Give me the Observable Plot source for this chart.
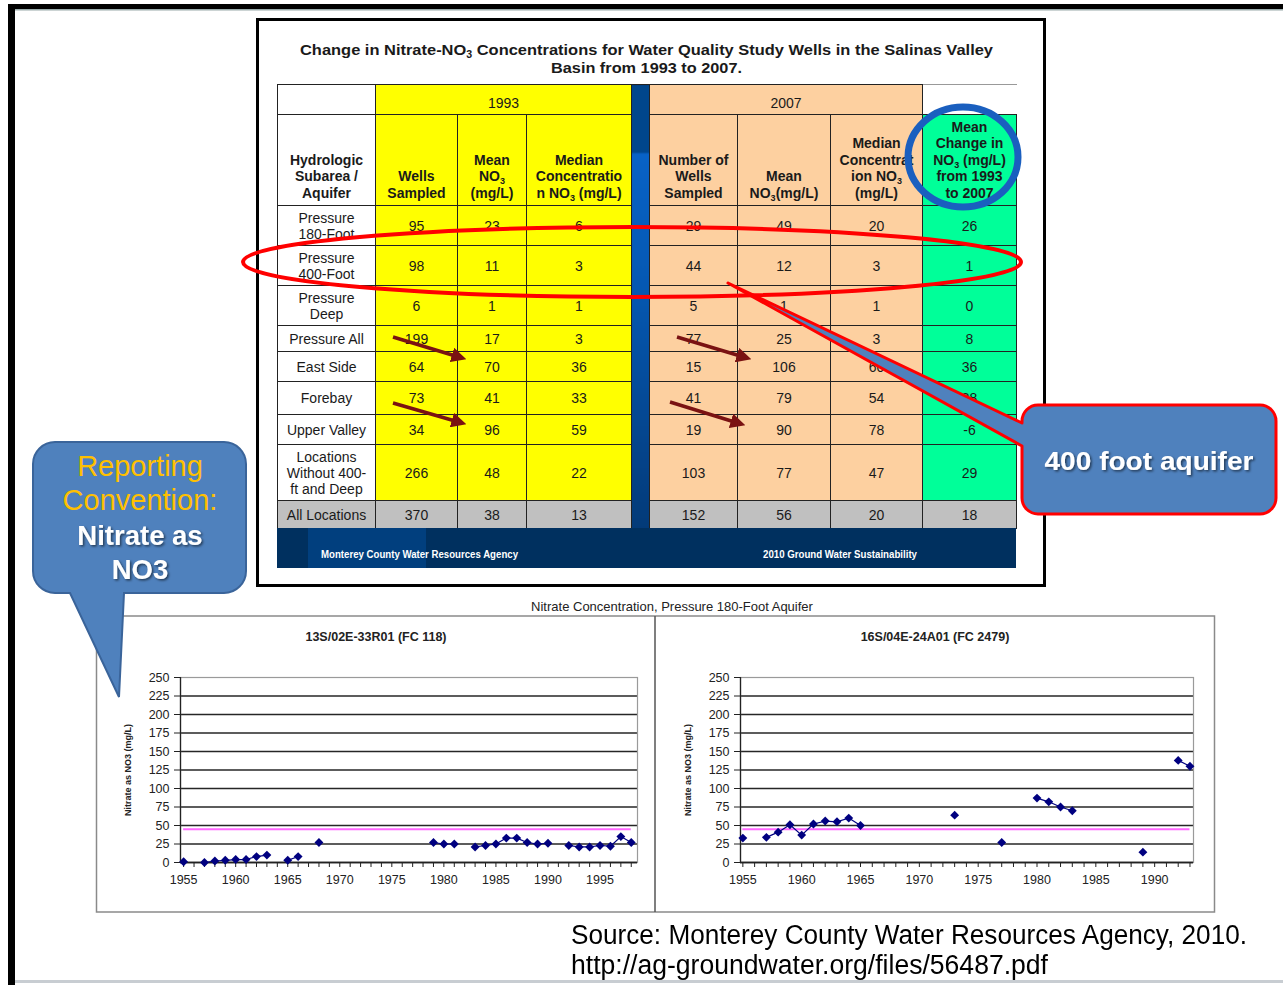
<!DOCTYPE html>
<html><head><meta charset="utf-8">
<script src="https://cdn.jsdelivr.net/npm/d3@7"></script>
<script src="https://cdn.jsdelivr.net/npm/@observablehq/plot@0.6"></script>
<style>
html,body{margin:0;padding:0;background:#fff;}
body{width:1283px;height:985px;position:relative;overflow:hidden;font-family:"Liberation Sans",Arial,sans-serif;}
#tbl{position:absolute;left:277px;top:84px;border-collapse:collapse;table-layout:fixed;width:739px;font-size:14px;color:#1a1a1a;}
#tbl td{border:1px solid #222;padding:0;text-align:center;vertical-align:middle;line-height:16px;overflow:hidden;}
#tbl td.h{font-weight:bold;vertical-align:bottom;padding-bottom:4px;line-height:16.4px;}
#tbl td.yr{vertical-align:middle;padding-top:6px;}
.y{background:#ffff00}.p{background:#fdd0a0}.g{background:#00ff99}.w{background:#fff}.gr{background:#c0c0c0}
#tbl td.sep{background:linear-gradient(to bottom,#00468c 0,#00468c 15%,#0862c6 15.5%,#0558b2 45%,#033a78 100%);}
#tbl td.tr{border-right:hidden;border-top:1px solid #999;}
sub{font-size:9px;vertical-align:-3px;line-height:0}
.chart{position:absolute;top:650px;}
#ov{position:absolute;left:0;top:0;z-index:50;pointer-events:none;}
.src{position:absolute;left:571px;font-size:27px;line-height:30px;color:#000;white-space:nowrap;transform-origin:0 50%;z-index:60;}
</style></head>
<body>
<table id="tbl"></table>
<div id="c1" class="chart" style="left:96px"></div>
<div id="c2" class="chart" style="left:656px"></div>
<div class="src" id="s1" data-w="676" style="top:920px">Source: Monterey County Water Resources Agency, 2010.</div>
<div class="src" id="s2" data-w="477" style="top:950px">http://ag-groundwater.org/files/56487.pdf</div>
<svg id="ov" width="1283" height="985" xmlns="http://www.w3.org/2000/svg" font-family="Liberation Sans, Arial, sans-serif">
<defs>
<marker id="ah" viewBox="0 0 10 10" refX="7" refY="5" markerWidth="4.3" markerHeight="4.3" orient="auto"><path d="M0,0 L10,5 L0,10 z" fill="#7a1212"/></marker>
<filter id="sh" x="-10%" y="-20%" width="130%" height="150%"><feDropShadow dx="1.5" dy="1.5" stdDeviation="1" flood-color="#000" flood-opacity="0.55"/></filter>
</defs>
<!-- slide frame -->
<rect x="8" y="4" width="1275" height="5" fill="#000"/>
<rect x="14" y="9" width="1269" height="1.5" fill="#9aa"/>
<rect x="8" y="4" width="7" height="981" fill="#000"/>
<rect x="15" y="980" width="1268" height="3" fill="#c8cdd2"/>
<!-- table box -->
<rect x="257.5" y="19.5" width="787" height="566" fill="none" stroke="#000" stroke-width="3"/>
<text x="300" y="55" font-size="15.5" font-weight="bold" fill="#1a1a1a" textLength="693" lengthAdjust="spacingAndGlyphs">Change in Nitrate-NO<tspan font-size="10" dy="3">3</tspan><tspan dy="-3"> Concentrations for Water Quality Study Wells in the Salinas Valley</tspan></text>
<text x="551" y="73" font-size="15.5" font-weight="bold" fill="#1a1a1a" textLength="191" lengthAdjust="spacingAndGlyphs">Basin from 1993 to 2007.</text>
<!-- table footer -->
<rect x="277" y="528" width="739" height="40" fill="#00305f"/>
<rect x="308" y="528" width="118" height="40" fill="#013f7e"/>
<text x="321" y="558" font-size="10.5" font-weight="bold" fill="#fff" textLength="197" lengthAdjust="spacingAndGlyphs">Monterey County Water Resources Agency</text>
<text x="763" y="558" font-size="10.5" font-weight="bold" fill="#fff" textLength="154" lengthAdjust="spacingAndGlyphs">2010 Ground Water Sustainability</text>
<!-- annotations -->
<ellipse cx="632" cy="262" rx="389" ry="35" fill="none" stroke="#ff0000" stroke-width="4"/>
<ellipse cx="963" cy="157" rx="55" ry="50" fill="none" stroke="#1a5fbf" stroke-width="7"/>
<g stroke="#7a1212" stroke-width="3.5" marker-end="url(#ah)">
<line x1="393" y1="337" x2="462" y2="358"/>
<line x1="393" y1="403" x2="462" y2="423"/>
<line x1="677" y1="337" x2="747" y2="358"/>
<line x1="670" y1="402" x2="741" y2="424"/>
</g>
<path d="M 728 283 L 1022 446 V 498 A16 16 0 0 0 1038 514 H 1260 A16 16 0 0 0 1276 498 V 421 A16 16 0 0 0 1260 405 H 1038 A16 16 0 0 0 1022 421 V 423 Z" fill="#4f81bd" stroke="#ff0000" stroke-width="3" stroke-linejoin="round"/>
<text x="1149" y="470" text-anchor="middle" font-size="26" font-weight="bold" fill="#fff" filter="url(#sh)" textLength="209" lengthAdjust="spacingAndGlyphs">400 foot aquifer</text>
<!-- chart panel -->
<text x="672" y="611" text-anchor="middle" font-size="13" fill="#222">Nitrate Concentration, Pressure 180-Foot Aquifer</text>
<rect x="96.5" y="616" width="1118" height="296" fill="none" stroke="#8a8a8a" stroke-width="1.5"/>
<line x1="655" y1="616" x2="655" y2="912" stroke="#555" stroke-width="1.5"/>
<text x="376" y="641" text-anchor="middle" font-size="12.5" font-weight="bold" fill="#222">13S/02E-33R01 (FC 118)</text>
<text x="935" y="641" text-anchor="middle" font-size="12.5" font-weight="bold" fill="#222">16S/04E-24A01 (FC 2479)</text>
<!-- left callout -->
<path d="M 55 442 H 224 A22 22 0 0 1 246 464 V 571 A22 22 0 0 1 224 593 H 124 L 119 697 L 70 593 H 55 A22 22 0 0 1 33 571 V 464 A22 22 0 0 1 55 442 Z" fill="#4f81bd" stroke="#3a649a" stroke-width="2"/>
<g text-anchor="middle">
<text x="140" y="476" font-size="29" fill="#ffc000">Reporting</text>
<text x="140" y="510" font-size="29" fill="#ffc000">Convention:</text>
<text x="140" y="545" font-size="27.5" font-weight="bold" fill="#fff" filter="url(#sh)">Nitrate as</text>
<text x="140" y="579" font-size="27.5" font-weight="bold" fill="#fff" filter="url(#sh)">NO3</text>
</g>
</svg>
<script>
// ---------- table data ----------
const rowLabels = ["Pressure\n180-Foot","Pressure\n400-Foot","Pressure\nDeep","Pressure All","East Side","Forebay","Upper Valley","Locations\nWithout 400-\nft and Deep","All Locations"];
const wells1993  = [95, 98, 6, 199, 64, 73, 34, 266, 370];
const mean1993   = [23, 11, 1, 17, 70, 41, 96, 48, 38];
const median1993 = [6, 3, 1, 3, 36, 33, 59, 22, 13];
const wells2007  = [29, 44, 5, 77, 15, 41, 19, 103, 152];
const mean2007   = [49, 12, 1, 25, 106, 79, 90, 77, 56];
const median2007 = [20, 3, 1, 3, 60, 54, 78, 47, 20];
const change     = [26, 1, 0, 8, 36, 38, -6, 29, 18];
const periodLabels = ["1993", "2007"];
const headers = ["Hydrologic\nSubarea /\nAquifer","Wells\nSampled","Mean\nNO<sub>3</sub>\n(mg/L)","Median\nConcentratio\nn NO<sub>3</sub> (mg/L)",
                 "Number of\nWells\nSampled","Mean\nNO<sub>3</sub>(mg/L)","Median\nConcentrat\nion NO<sub>3</sub>\n(mg/L)","Mean\nChange in\nNO<sub>3</sub> (mg/L)\nfrom 1993\nto 2007"];

// ---------- chart data ----------
const yearsA   = [1955,1957,1958,1959,1960,1961,1962,1963,1965,1966,1968,1979,1980,1981,1983,1984,1985,1986,1987,1988,1989,1990,1992,1993,1994,1995,1996,1997,1998];
const nitrateA = [1,0,2,3,4,4,8,10,3,8,27,27,25,25,21,23,25,33,33,27,25,26,23,21,21,23,22,35,27];
const yearsB   = [1955,1957,1958,1959,1960,1961,1962,1963,1964,1965,1973,1977,1980,1981,1982,1983,1989,1992,1993];
const nitrateB = [33,34,41,51,37,52,56,55,60,50,64,27,87,82,75,70,14,138,130];
const mcl = 45;
const yTicks = [0,25,50,75,100,125,150,175,200,225,250];
const xLabelYears = [1955,1960,1965,1970,1975,1980,1985,1990,1995];
const yLabel = "Nitrate as NO3 (mg/L)";

// ---------- build table ----------
const colW = [98,82,69,105,18,88,93,92,94];
const rowH = [40,40,40,26,30,33,30,56,28];
const br = s => s.replace(/\n/g, "<br>");
let html = "<colgroup>" + colW.map(w => `<col style="width:${w}px">`).join("") + "</colgroup>";
html += `<tr style="height:30px"><td class="w"></td><td class="y yr" colspan="3">${periodLabels[0]}</td><td class="sep" rowspan="11"></td><td class="p yr" colspan="3">${periodLabels[1]}</td><td class="w tr"></td></tr>`;
const hcls = ["w","y","y","y","p","p","p","g"];
html += `<tr style="height:91px">` + headers.map((h,i) => `<td class="h ${hcls[i]}">${br(h)}</td>`).join("") + "</tr>";
rowLabels.forEach((lab, i) => {
  const vals = [wells1993[i], mean1993[i], median1993[i], wells2007[i], mean2007[i], median2007[i], change[i]];
  const cls = i === rowLabels.length - 1 ? ["gr","gr","gr","gr","gr","gr","gr","gr"] : hcls;
  html += `<tr style="height:${rowH[i]}px"><td class="${cls[0]}">${br(lab)}</td>` +
    vals.map((v, j) => `<td class="${cls[j+1]}">${v}</td>`).join("") + "</tr>";
});
document.getElementById("tbl").innerHTML = html;

// condensed source lines
document.querySelectorAll(".src").forEach(el => {
  el.style.display = "inline-block";
  const w = el.getBoundingClientRect().width;
  el.style.transform = `scaleX(${(+el.dataset.w) / w})`;
});

// ---------- charts ----------
function chart(years, vals, domain, mr) {
  const first = years[0], last = years[years.length - 1];
  const series = d3.range(first, last + 1).map(yr => { const i = years.indexOf(yr); return {year: yr, v: i < 0 ? NaN : vals[i]}; });
  const pts = years.map((yr, i) => ({year: yr, v: vals[i]}));
  return Plot.plot({
    width: 559, height: 250, marginLeft: 84, marginRight: mr, marginTop: 27, marginBottom: 38,
    style: {background: "transparent", fontFamily: '"Liberation Sans", Arial, sans-serif', color: "#222", overflow: "visible"},
    x: {domain, label: null},
    y: {domain: [0, 250], label: null},
    marks: [
      Plot.ruleY(yTicks.filter(t => t < 250), {stroke: "#262626", strokeWidth: 1.3}),
      Plot.frame({stroke: "#9a9a9a", strokeWidth: 1.2}),
      Plot.ruleX([domain[0]], {stroke: "#222", strokeWidth: 1.3}),
      Plot.ruleY([0], {stroke: "#222", strokeWidth: 1.3}),
      Plot.axisY({ticks: yTicks, tickSize: 6, tickPadding: 5, fontSize: 12.5, label: null, tickFormat: d => String(d)}),
      Plot.axisX({ticks: d3.range(1955, Math.floor(domain[1]) + 1), tickSize: 5, tickFormat: () => "", label: null}),
      Plot.axisX({ticks: xLabelYears.filter(y => y <= domain[1]), tickSize: 0, tickPadding: 13, fontSize: 12.5, tickFormat: d => String(d), label: null}),
      Plot.ruleY([{y: mcl, x1: first, x2: last}], {y: "y", x1: "x1", x2: "x2", stroke: "#ff66ff", strokeWidth: 2}),
      Plot.line(series, {x: "year", y: "v", stroke: "#000080", strokeWidth: 1.2}),
      Plot.dot(pts, {x: "year", y: "v", symbol: "diamond2", r: 4, fill: "#000080", stroke: "none"}),
      Plot.text([yLabel], {text: d => d, frameAnchor: "left", textAnchor: "middle", lineAnchor: "middle", rotate: -90, dx: -52, fontSize: 9, fontWeight: "bold", fill: "#222"})
    ]
  });
}
document.getElementById("c1").appendChild(chart(yearsA, nitrateA, [1954.7, 1998.6], 18));
document.getElementById("c2").appendChild(chart(yearsB, nitrateB, [1954.8, 1993.3], 22));
</script>
</body></html>
